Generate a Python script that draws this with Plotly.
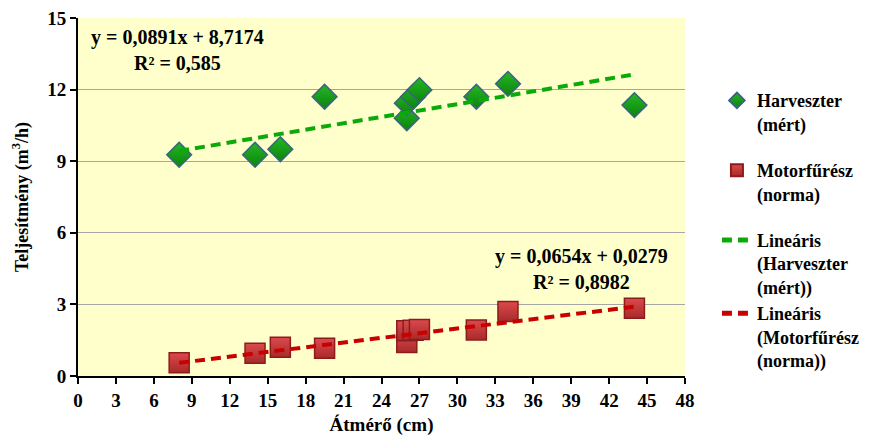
import plotly.graph_objects as go

# measured diameters (cm) and outputs (m3/h)
atmero = [8, 14, 16, 19.5, 26, 26, 26.5, 27, 31.5, 34, 44]
harveszter = [9.27, 9.27, 9.5, 11.7, 10.8, 11.43, 11.7, 11.98, 11.7, 12.24, 11.35]
motorfuresz = [0.56, 0.95, 1.2, 1.16, 1.4, 1.9, 1.92, 1.95, 1.93, 2.7, 2.84]

# trend lines as reported on the chart: slope, intercept
harv_fit = (0.0891, 8.7174)
motor_fit = (0.0654, 0.0279)
fit_range = [8, 44]

x_ticks = list(range(0, 49, 3))
y_ticks = [0, 3, 6, 9, 12, 15]

FONT = "Liberation Serif"

fig = go.Figure()

fig.add_trace(go.Scatter(
    x=atmero, y=harveszter, mode="markers",
    name="<b>Harveszter<br>(mért)</b>", legendgroup="a",
    marker=dict(symbol="diamond", size=19, color="#26b626",
                gradient=dict(type="vertical", color="#0a840a"),
                line=dict(color="#3d6384", width=1.5)),
))
fig.add_trace(go.Scatter(
    x=atmero, y=motorfuresz, mode="markers",
    name="<b>Motorfűrész<br>(norma)</b>", legendgroup="b",
    marker=dict(symbol="square", size=20, color="#dc4a4c",
                gradient=dict(type="vertical", color="#a82a2a"),
                line=dict(color="#8c1c1c", width=1.5)),
))
fig.add_trace(go.Scatter(
    x=fit_range, y=[harv_fit[0] * v + harv_fit[1] for v in fit_range],
    mode="lines", name="<b>Lineáris<br>(Harveszter<br>(mért))</b>", legendgroup="c",
    line=dict(color="#0aaa0a", width=4, dash="10px,6px"),
))
fig.add_trace(go.Scatter(
    x=fit_range, y=[motor_fit[0] * v + motor_fit[1] for v in fit_range],
    mode="lines", name="<b>Lineáris<br>(Motorfűrész<br>(norma))</b>", legendgroup="c",
    line=dict(color="#c80000", width=4, dash="10px,6px"),
))

fig.add_annotation(x=7.9, y=13.65, xref="x", yref="y", showarrow=False, align="center",
                   text="<b>y = 0,0891x + 8,7174<br>R² = 0,585</b>",
                   font=dict(family=FONT, size=20, color="black"))
fig.add_annotation(x=39.8, y=4.5, xref="x", yref="y", showarrow=False, align="center",
                   text="<b>y = 0,0654x + 0,0279<br>R² = 0,8982</b>",
                   font=dict(family=FONT, size=20, color="black"))

fig.update_layout(
    width=874, height=436,
    margin=dict(l=78, r=189, t=18, b=60, autoexpand=False),
    paper_bgcolor="white", plot_bgcolor="#ffffcc",
    font=dict(family=FONT, size=18, color="black"),
    showlegend=True,
    legend=dict(
        xref="container", yref="container", x=0.8203, y=0.8115,
        xanchor="left", yanchor="top", valign="top",
        traceorder="grouped", tracegroupgap=20, maxheight=360,
        itemsizing="constant",
        font=dict(family=FONT, size=18, color="black"),
        bgcolor="rgba(0,0,0,0)", itemwidth=30,
    ),
    xaxis=dict(
        range=[0, 48], tickvals=x_ticks, showgrid=False, zeroline=False, automargin=False,
        showline=True, linecolor="black", linewidth=2,
        ticks="outside", ticklen=6, tickwidth=2, tickcolor="black",
        tickfont=dict(family=FONT, size=19, weight="bold"),
        title=dict(text="<b>Átmérő (cm)</b>", font=dict(family=FONT, size=19), standoff=8),
    ),
    yaxis=dict(
        range=[0, 15], tickvals=y_ticks, showgrid=True, gridcolor="#a6a6a6", gridwidth=1,
        zeroline=False, showline=True, linecolor="black", linewidth=2, automargin=False,
        ticks="outside", ticklen=6, tickwidth=2, tickcolor="black",
        tickfont=dict(family=FONT, size=19, weight="bold"),
        title=dict(text="<b>Teljesítmény (m<sup>3</sup>/h)</b>", font=dict(family=FONT, size=18), standoff=14),
    ),
)

# the page body has a default 8px margin; remove it so the figure fills the window
fig.write_html("out.html", config={"displayModeBar": False},
               post_script="document.body.style.margin='0';")
